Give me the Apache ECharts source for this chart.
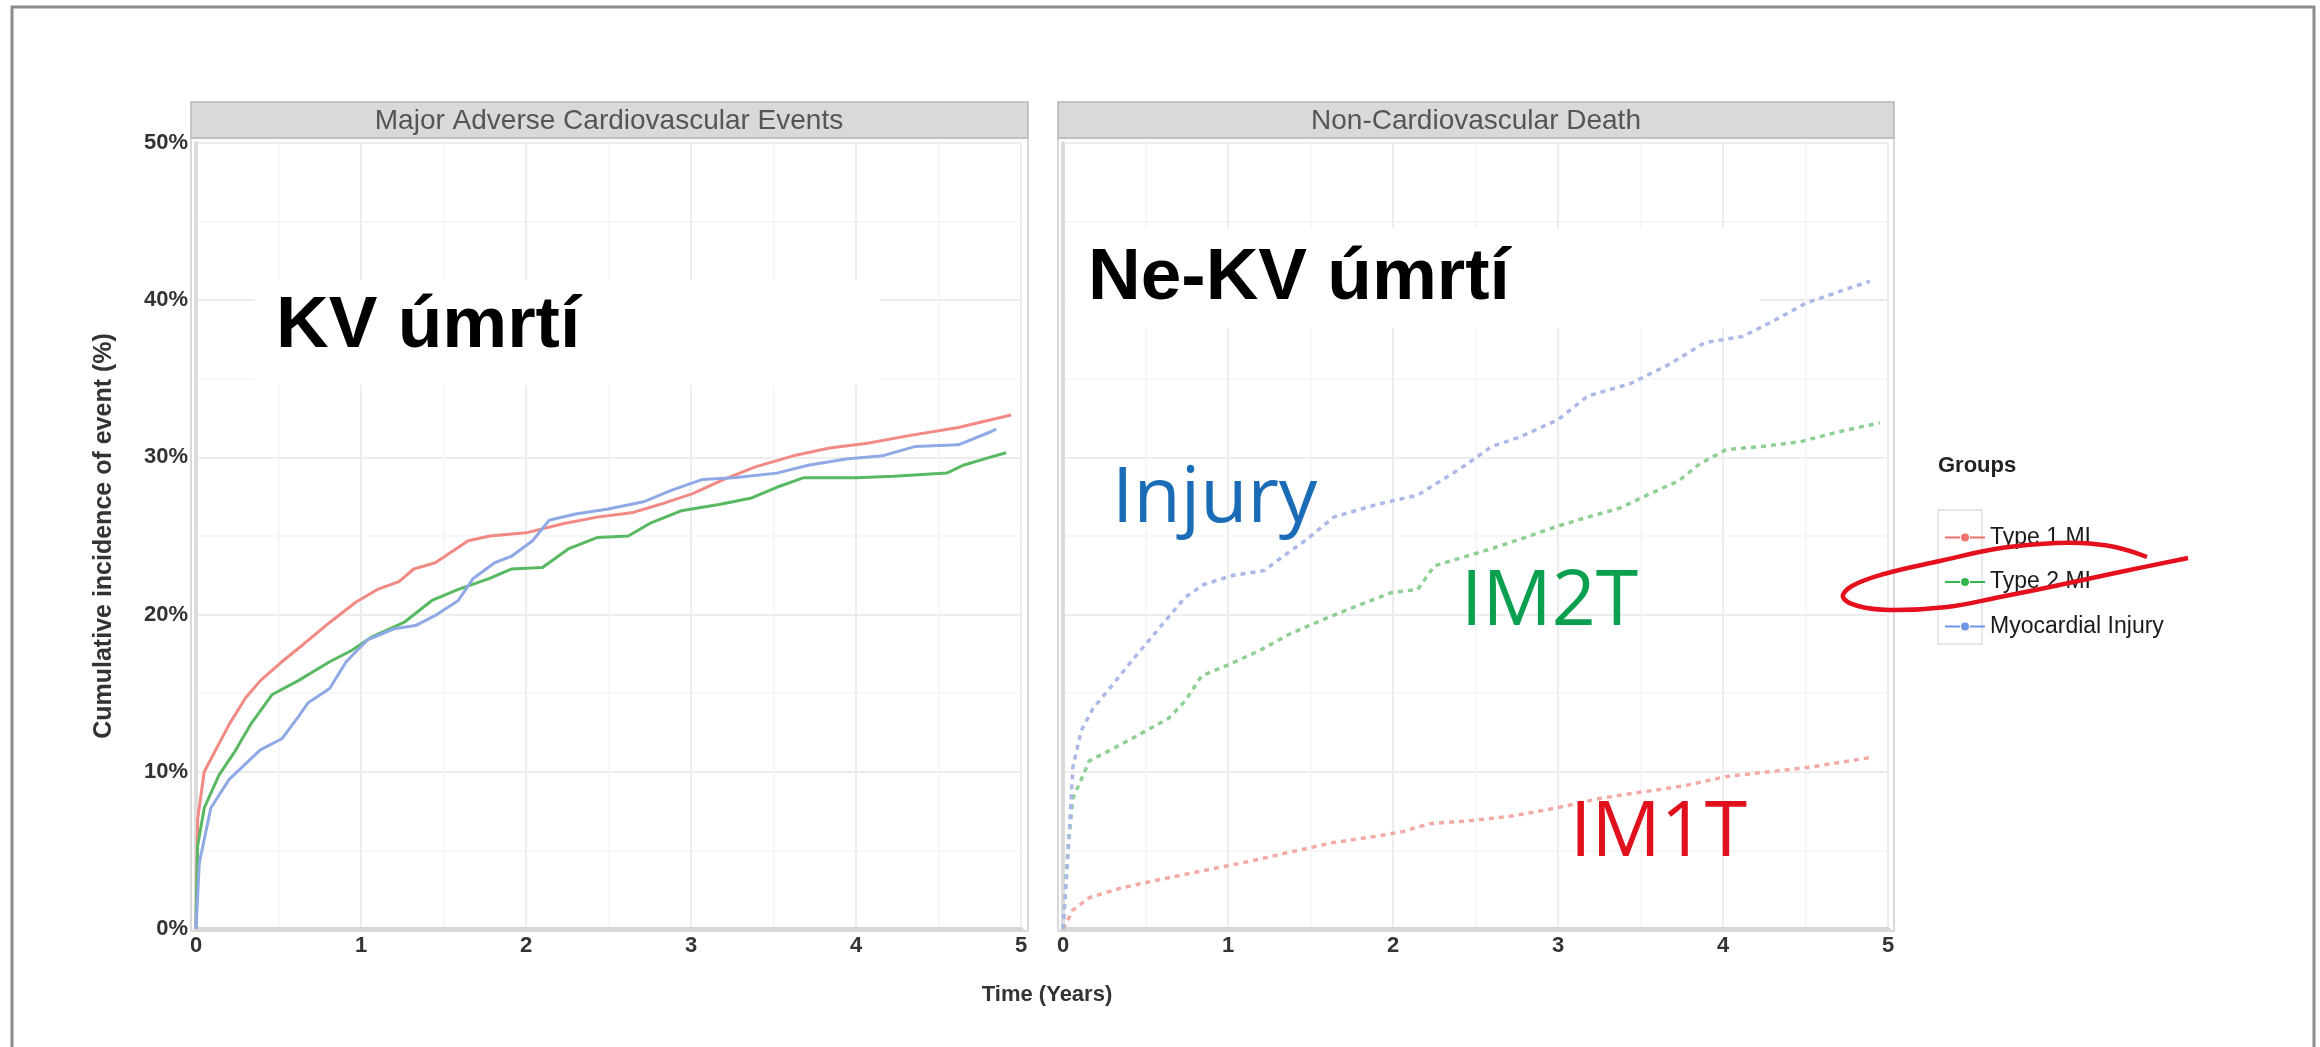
<!DOCTYPE html>
<html>
<head>
<meta charset="utf-8">
<script src="https://cdn.jsdelivr.net/npm/echarts@6/dist/echarts.min.js"></script>
<style>
  html, body { margin: 0; padding: 0; background: #fff; }
  #main { width: 2320px; height: 1047px; }
</style>
</head>
<body>
<div id="main"></div>
<script>
// [years, cumulative incidence %]
var groupNames = ['Type 1 MI', 'Type 2 MI', 'Myocardial Injury'];
var panelTitles = ['Major Adverse Cardiovascular Events', 'Non-Cardiovascular Death'];
var xTicks = [0, 1, 2, 3, 4, 5];
var yTicks = [0, 10, 20, 30, 40, 50];

var maceType1 = [[0,0],[0.01,7],[0.05,10],[0.12,11.4],[0.2,13],[0.3,14.7],[0.39,15.8],[0.52,17],[0.65,18.1],[0.81,19.5],[0.97,20.8],[1.1,21.6],[1.23,22.1],[1.32,22.9],[1.45,23.3],[1.55,24],[1.65,24.7],[1.78,25],[2.0,25.2],[2.23,25.8],[2.43,26.2],[2.65,26.5],[2.81,27],[3.01,27.7],[3.2,28.6],[3.39,29.4],[3.62,30.1],[3.84,30.6],[4.07,30.9],[4.33,31.4],[4.62,31.9],[4.94,32.7]];
var maceType2 = [[0,0],[0.01,5.3],[0.05,7.7],[0.14,9.8],[0.23,11.2],[0.33,13.0],[0.46,14.9],[0.62,15.8],[0.81,17],[0.94,17.7],[1.07,18.6],[1.26,19.5],[1.43,20.9],[1.59,21.6],[1.78,22.3],[1.91,22.9],[2.1,23],[2.26,24.2],[2.43,24.9],[2.62,25],[2.75,25.8],[2.94,26.6],[3.17,27],[3.36,27.4],[3.52,28.1],[3.68,28.7],[4.0,28.7],[4.23,28.8],[4.55,29],[4.65,29.5],[4.81,30],[4.91,30.3]];
var maceInjury = [[0,0],[0.02,4.2],[0.09,7.7],[0.2,9.5],[0.3,10.5],[0.39,11.4],[0.52,12.1],[0.62,13.5],[0.68,14.4],[0.81,15.3],[0.91,17],[1.04,18.4],[1.2,19.1],[1.33,19.3],[1.46,20],[1.59,20.9],[1.68,22.3],[1.81,23.3],[1.91,23.7],[2.04,24.7],[2.14,26],[2.3,26.4],[2.49,26.7],[2.72,27.2],[2.88,27.9],[3.07,28.6],[3.26,28.7],[3.52,29],[3.71,29.5],[3.94,29.9],[4.16,30.1],[4.36,30.7],[4.62,30.8],[4.81,31.6],[4.85,31.8]];

var ncdType1 = [[0,0],[0.06,1.2],[0.16,2],[0.35,2.6],[0.61,3.2],[0.87,3.75],[1.13,4.3],[1.38,4.9],[1.64,5.5],[1.9,5.9],[2.06,6.2],[2.22,6.7],[2.48,6.9],[2.73,7.2],[2.99,7.7],[3.25,8.3],[3.5,8.7],[3.76,9.1],[4.02,9.7],[4.28,10],[4.53,10.3],[4.89,10.9]];
var ncdType2 = [[0,0],[0.03,5.2],[0.06,8.3],[0.16,10.7],[0.29,11.4],[0.45,12.3],[0.64,13.4],[0.74,14.5],[0.84,16.1],[1.0,16.8],[1.19,17.7],[1.38,18.8],[1.58,19.7],[1.77,20.5],[1.99,21.4],[2.15,21.6],[2.25,23.1],[2.41,23.6],[2.6,24.2],[2.8,24.9],[2.99,25.6],[3.18,26.2],[3.38,26.8],[3.54,27.6],[3.73,28.5],[3.86,29.6],[4.02,30.5],[4.24,30.7],[4.47,31],[4.69,31.6],[4.95,32.2]];
var ncdInjury = [[0,0],[0.03,4.6],[0.06,10.3],[0.11,12.6],[0.18,14],[0.29,15.4],[0.42,17.1],[0.58,19.1],[0.74,21.1],[0.85,21.9],[1.03,22.5],[1.22,22.8],[1.32,23.6],[1.48,24.8],[1.64,26.2],[1.9,27],[2.15,27.6],[2.41,29.3],[2.6,30.7],[2.77,31.3],[3.0,32.4],[3.18,33.9],[3.44,34.7],[3.67,35.9],[3.89,37.3],[4.12,37.7],[4.31,38.7],[4.5,39.8],[4.69,40.5],[4.89,41.2]];

var solidColors = ['#f28a83', '#58b962', '#8fa9e6'];
var dotColors = ['#f3aaa5', '#8fcf93', '#abb9e8'];
var legendColors = ['#f0736b', '#35b64c', '#7096e6'];

var chart = echarts.init(document.getElementById('main'));

var font = 'Liberation Sans, Arial, sans-serif';

function xAxisOpt(idx) {
  return {
    type: 'value', gridIndex: idx, min: xTicks[0], max: xTicks[xTicks.length - 1], interval: 1,
    axisLine: { show: true, lineStyle: { color: '#d6d6d6', width: 5 } },
    axisTick: { show: false },
    axisLabel: { fontFamily: font, fontWeight: 'bold', fontSize: 22, color: '#333', margin: 6 },
    splitLine: { show: true, lineStyle: { color: '#ededed', width: 2 } },
    minorTick: { show: false, splitNumber: 2 },
    minorSplitLine: { show: true, lineStyle: { color: '#f5f5f5', width: 1.5 } }
  };
}
function yAxisOpt(idx, showLabels) {
  return {
    type: 'value', gridIndex: idx, min: yTicks[0], max: yTicks[yTicks.length - 1], interval: 10,
    name: showLabels ? 'Cumulative incidence of event (%)' : '',
    nameLocation: 'middle', nameGap: 79,
    nameTextStyle: { fontFamily: font, fontWeight: 'bold', fontSize: 25, color: '#333' },
    axisLine: { show: true, lineStyle: { color: '#dcdcdc', width: 4 } },
    axisTick: { show: false },
    axisLabel: { show: showLabels, formatter: '{value}%', fontFamily: font, fontWeight: 'bold', fontSize: 22, color: '#333', margin: 8 },
    splitLine: { show: true, lineStyle: { color: '#ededed', width: 2 } },
    minorTick: { show: false, splitNumber: 2 },
    minorSplitLine: { show: true, lineStyle: { color: '#f5f5f5', width: 1.5 } }
  };
}

function lineSeries(name, data, idx, color, dotted) {
  return {
    name: name, type: 'line', xAxisIndex: idx, yAxisIndex: idx,
    data: data, symbol: 'none', smooth: false, silent: true,
    itemStyle: { color: color },
    lineStyle: { color: color, width: dotted ? 3.5 : 3, type: dotted ? [5, 5] : 'solid' },
    z: 3
  };
}

var legendIcon = 'path://M0,9L15,9L15,11L0,11ZM25,9L40,9L40,11L25,11ZM16,10a4,4 0 1,0 8,0a4,4 0 1,0 -8,0Z';

var option = {
  backgroundColor: '#fff',
  animation: false,
  grid: [
    { left: 196, top: 143, width: 825, height: 786 },
    { left: 1063, top: 143, width: 825, height: 786 }
  ],
  xAxis: [xAxisOpt(0), xAxisOpt(1)],
  yAxis: [yAxisOpt(0, true), yAxisOpt(1, false)],
  legend: {
    orient: 'vertical', left: 1940, top: 521,
    itemWidth: 40, itemHeight: 20, itemGap: 21.5,
    textStyle: { fontFamily: font, fontSize: 23, color: '#1a1a1a' },
    data: groupNames.map(function (n, i) {
      return { name: n, icon: legendIcon, itemStyle: { color: legendColors[i] } };
    })
  },
  series: [
    lineSeries(groupNames[0], maceType1, 0, solidColors[0], false),
    lineSeries(groupNames[1], maceType2, 0, solidColors[1], false),
    lineSeries(groupNames[2], maceInjury, 0, solidColors[2], false),
    lineSeries(groupNames[0], ncdType1, 1, dotColors[0], true),
    lineSeries(groupNames[1], ncdType2, 1, dotColors[1], true),
    lineSeries(groupNames[2], ncdInjury, 1, dotColors[2], true)
  ],
  graphic: [
    // outer frame
    { type: 'rect', z: 6, shape: { x: 12, y: 7, width: 2302, height: 1060 }, style: { fill: 'none', stroke: '#8c8c8c', lineWidth: 3 } },
    // panel borders
    { type: 'rect', z: 1, shape: { x: 191, y: 138, width: 837, height: 793 }, style: { fill: 'none', stroke: '#d9d9d9', lineWidth: 2 } },
    { type: 'rect', z: 1, shape: { x: 1058, y: 138, width: 836, height: 793 }, style: { fill: 'none', stroke: '#d9d9d9', lineWidth: 2 } },
    // facet strips
    { type: 'rect', z: 2, shape: { x: 191, y: 102, width: 837, height: 36 }, style: { fill: '#d9d9d9', stroke: '#b8b8b8', lineWidth: 1.5 } },
    { type: 'rect', z: 2, shape: { x: 1058, y: 102, width: 836, height: 36 }, style: { fill: '#d9d9d9', stroke: '#b8b8b8', lineWidth: 1.5 } },
    { type: 'text', z: 3, style: { x: 609, y: 121, text: panelTitles[0], fontFamily: font, fontSize: 28, fill: '#555', textAlign: 'center', textVerticalAlign: 'middle' } },
    { type: 'text', z: 3, style: { x: 1476, y: 121, text: panelTitles[1], fontFamily: font, fontSize: 28, fill: '#555', textAlign: 'center', textVerticalAlign: 'middle' } },
    // white boxes behind the big labels
    { type: 'rect', z: 1, shape: { x: 255, y: 280, width: 625, height: 105 }, style: { fill: '#fff' } },
    { type: 'rect', z: 1, shape: { x: 1066, y: 228, width: 694, height: 100 }, style: { fill: '#fff' } },
    // annotations
    { type: 'text', z: 7, style: { x: 276, y: 327, text: 'KV úmrtí', fontFamily: font, fontWeight: 'bold', fontSize: 73, fill: '#000', textVerticalAlign: 'middle' } },
    { type: 'text', z: 7, style: { x: 1088, y: 279, text: 'Ne-KV úmrtí', fontFamily: font, fontWeight: 'bold', fontSize: 73, fill: '#000', textVerticalAlign: 'middle' } },
    { type: 'text', z: 7, style: { x: 1112, y: 500, text: 'Injury', fontFamily: 'Open Sans', fontSize: 77, fill: '#1b6cb7', textVerticalAlign: 'middle' } },
    { type: 'text', z: 7, style: { x: 1461, y: 603, text: 'IM2T', fontFamily: 'Open Sans', fontSize: 77, fill: '#0aa04f', textVerticalAlign: 'middle' } },
    { type: 'text', z: 7, style: { x: 1570, y: 834, text: 'IM1T', fontFamily: 'Open Sans', fontSize: 77, fill: '#e0101c', textVerticalAlign: 'middle' } },
    // axis title & legend title
    { type: 'text', z: 3, style: { x: 1047, y: 995, text: 'Time (Years)', fontFamily: font, fontWeight: 'bold', fontSize: 22, fill: '#333', textAlign: 'center', textVerticalAlign: 'middle' } },
    { type: 'text', z: 3, style: { x: 1938, y: 466, text: 'Groups', fontFamily: font, fontWeight: 'bold', fontSize: 22, fill: '#222', textVerticalAlign: 'middle' } },
    { type: 'rect', z: 1, shape: { x: 1938, y: 510, width: 44, height: 134 }, style: { fill: 'none', stroke: '#e0e0e0', lineWidth: 1.5 } },
    // hand-drawn red mark around "Type 2 MI"
    { type: 'polyline', z: 8, shape: { smooth: 0.4, points: [[2147,557],[2115,547],[2080,543],[2040,544],[1995,549],[1940,561],[1884,574],[1852,586],[1843,597],[1858,606],[1890,610],[1947,607],[2000,597],[2050,587],[2120,572],[2188,558]] }, style: { fill: 'none', stroke: '#e5101e', lineWidth: 4.5 } }
  ]
};

chart.setOption(option);
</script>
</body>
</html>
